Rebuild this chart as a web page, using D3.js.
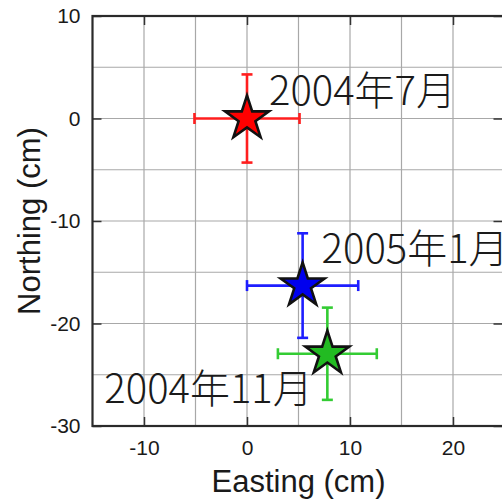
<!DOCTYPE html>
<html>
<head>
<meta charset="utf-8">
<script src="https://cdn.jsdelivr.net/npm/d3@7/dist/d3.min.js"></script>
<style>
  html, body { margin: 0; padding: 0; background: #fff; }
  svg { display: block; }
</style>
</head>
<body>
<svg id="chart" width="502" height="502"></svg>
<script>
// ---- data ----
const labels   = ["2004年7月", "2005年1月", "2004年11月"];
const easting  = [0.0, 5.4, 7.8];
const northing = [0.0, -16.3, -22.95];
const errEast  = [5.1, 5.4, 4.8];
const errNorth = [4.3, 5.1, 4.5];
const colors   = ["#ff1e1e", "#1e1eff", "#33cc33"];
const fills    = ["#ff0000", "#0000ee", "#22bb22"];
const xTicks   = [-10, 0, 10, 20];
const yTicks   = [10, 0, -10, -20, -30];
const gridX    = [-10, -5, 0, 5, 10, 15, 20];
const gridY    = [5, 0, -5, -10, -15, -20, -25];

// ---- layout ----
const svg = d3.select("#chart");
const L = 92.5, R = 504.5, T = 16, B = 426;
const x = d3.scaleLinear().domain([-15, 25]).range([L, R]);
const y = d3.scaleLinear().domain([-30, 10]).range([B, T]);
const labelOffset = [[22, -14], [19, -22.5], [-223, 49.5]];
const fmt = d => String(d);

svg.append("rect").attr("width", 502).attr("height", 502).attr("fill", "#fff");

// grid
const grid = svg.append("g").attr("stroke", "#a8a8a8").attr("stroke-width", 1.2);
grid.selectAll("line.gx").data(gridX).join("line")
  .attr("x1", d => x(d)).attr("x2", d => x(d)).attr("y1", T).attr("y2", B);
grid.selectAll("line.gy").data(gridY).join("line")
  .attr("y1", d => y(d)).attr("y2", d => y(d)).attr("x1", L).attr("x2", R);

// error bars
const pts = labels.map((l, i) => ({ l, x: easting[i], y: northing[i], ex: errEast[i], ey: errNorth[i], c: colors[i], f: fills[i], o: labelOffset[i] }));
const cap = 5.5;
const eb = svg.append("g").attr("stroke-width", 2.6).attr("fill", "none");
pts.forEach(p => {
  const g = eb.append("g").attr("stroke", p.c);
  g.append("line").attr("x1", x(p.x - p.ex)).attr("x2", x(p.x + p.ex)).attr("y1", y(p.y)).attr("y2", y(p.y));
  g.append("line").attr("y1", y(p.y - p.ey)).attr("y2", y(p.y + p.ey)).attr("x1", x(p.x)).attr("x2", x(p.x));
  [p.x - p.ex, p.x + p.ex].forEach(v => g.append("line")
    .attr("x1", x(v)).attr("x2", x(v)).attr("y1", y(p.y) - cap).attr("y2", y(p.y) + cap));
  [p.y - p.ey, p.y + p.ey].forEach(v => g.append("line")
    .attr("y1", y(v)).attr("y2", y(v)).attr("x1", x(p.x) - cap).attr("x2", x(p.x) + cap));
});

// stars
const star = d3.symbol(d3.symbolStar, 600);
svg.append("g").selectAll("path").data(pts).join("path")
  .attr("d", star)
  .attr("transform", d => `translate(${x(d.x)},${y(d.y)})`)
  .attr("fill", d => d.f)
  .attr("stroke", "#111")
  .attr("stroke-width", 2.6)
  .attr("stroke-linejoin", "miter");

// labels
svg.append("g").selectAll("text").data(pts).join("text")
  .attr("x", d => x(d.x) + d.o[0])
  .attr("y", d => y(d.y) + d.o[1])
  .attr("font-family", "'Noto Sans CJK JP', 'Noto Sans', sans-serif")
  .attr("font-size", 40)
  .attr("font-weight", 300)
  .attr("fill", "#1a1a1a")
  .text(d => d.l);

// axes
function style(g, labelsOn) {
  g.select(".domain").remove();
  g.selectAll(".tick line").attr("stroke", "#333").attr("stroke-width", 1.5);
  g.selectAll(".tick text")
    .attr("font-family", "'Liberation Sans', Arial, sans-serif")
    .attr("font-size", 21).attr("fill", "#1a1a1a");
  if (!labelsOn) g.selectAll(".tick text").remove();
}
svg.append("g").attr("transform", `translate(0,${B})`)
  .call(d3.axisBottom(x).tickValues(xTicks).tickFormat(fmt).tickSizeInner(-9).tickSizeOuter(0).tickPadding(14))
  .call(g => style(g, true));
svg.append("g").attr("transform", `translate(0,${T})`)
  .call(d3.axisTop(x).tickValues(xTicks).tickSizeInner(-9).tickSizeOuter(0))
  .call(g => style(g, false));
svg.append("g").attr("transform", `translate(${L},0)`)
  .call(d3.axisLeft(y).tickValues(yTicks).tickFormat(fmt).tickSizeInner(-9).tickSizeOuter(0).tickPadding(12))
  .call(g => style(g, true));
svg.append("g").attr("transform", `translate(${R - 2},0)`)
  .call(d3.axisRight(y).tickValues(yTicks).tickSizeInner(-9).tickSizeOuter(0))
  .call(g => style(g, false));

// frame
svg.append("rect").attr("x", L).attr("y", T).attr("width", R - L).attr("height", B - T)
  .attr("fill", "none").attr("stroke", "#2a2a2a").attr("stroke-width", 2.2);

// axis titles
svg.append("text")
  .attr("x", (L + R) / 2).attr("y", 492)
  .attr("text-anchor", "middle")
  .attr("font-family", "'Liberation Sans', Arial, sans-serif")
  .attr("font-size", 31).attr("fill", "#1a1a1a")
  .text("Easting (cm)");
svg.append("text")
  .attr("transform", `translate(40,${(T + B) / 2}) rotate(-90)`)
  .attr("text-anchor", "middle")
  .attr("font-family", "'Liberation Sans', Arial, sans-serif")
  .attr("font-size", 31).attr("fill", "#1a1a1a")
  .text("Northing (cm)");
</script>
</body>
</html>
